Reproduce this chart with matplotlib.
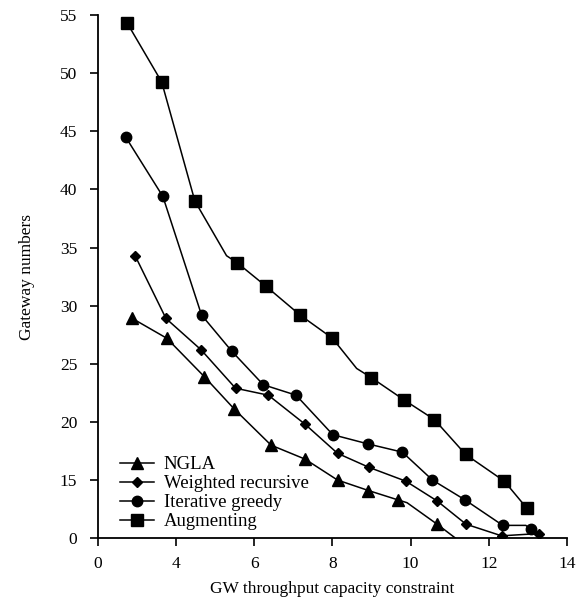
import numpy as np
import matplotlib.pyplot as plt

# values (x axis really runs 2..14, y axis 10..55)
ngla_x = [2.88, 3.76, 4.72, 5.49, 6.43, 7.30, 8.13, 8.92, 9.67, 9.91, 10.68, 11.15]
ngla_y = [28.9, 27.2, 23.9, 21.1, 18.0, 16.8, 15.0, 14.1, 13.3, 13.05, 11.2, 10.0]
ngla_marks = [0, 1, 2, 3, 4, 5, 6, 7, 8, 10]

wr_x = [2.95, 3.74, 4.64, 5.52, 6.36, 7.30, 8.13, 8.93, 9.88, 10.68, 11.42, 12.33, 13.29]
wr_y = [34.3, 28.9, 26.2, 22.9, 22.3, 19.8, 17.3, 16.1, 14.9, 13.2, 11.2, 10.2, 10.4]

ig_x = [2.71, 3.66, 4.65, 5.42, 6.23, 7.07, 8.01, 8.92, 9.79, 10.56, 11.39, 12.36, 12.95, 13.08]
ig_y = [44.5, 39.4, 29.2, 26.1, 23.2, 22.3, 18.9, 18.1, 17.4, 15.0, 13.3, 11.1, 11.1, 10.75]
ig_marks = [0, 1, 2, 3, 4, 5, 6, 7, 8, 9, 10, 11, 13]

aug_x = [2.75, 3.63, 4.48, 5.29, 5.56, 6.29, 7.17, 8.0, 8.62, 9.0, 9.83, 10.61, 11.41, 12.4, 12.97]
aug_y = [54.3, 49.25, 39.0, 34.3, 33.7, 31.7, 29.2, 27.2, 24.6, 23.8, 21.9, 20.2, 17.2, 14.9, 12.6]
aug_marks = [0, 1, 2, 4, 5, 6, 7, 9, 10, 11, 12, 13, 14]

x_ticks = [2, 4, 6, 8, 10, 12, 14]
x_labels = ["0", "4", "6", "8", "10", "12", "14"]
y_ticks = [10, 15, 20, 25, 30, 35, 40, 45, 50, 55]
y_labels = ["0", "15", "20", "25", "30", "35", "40", "45", "50", "55"]

plt.rcParams["font.family"] = ["Liberation Serif", "DejaVu Serif"]

fig = plt.figure(figsize=(5.85, 6.04), dpi=100)
ax = fig.add_axes([0.1675, 0.109, 0.8015, 0.866])

ax.plot(ngla_x, ngla_y, color="black", lw=1.1, marker="^", ms=8.5,
        markevery=ngla_marks, label="NGLA")
ax.plot(wr_x, wr_y, color="black", lw=1.1, marker="D", ms=5.5,
        label="Weighted recursive")
ax.plot(ig_x, ig_y, color="black", lw=1.1, marker="o", ms=7.5,
        markevery=ig_marks, label="Iterative greedy")
ax.plot(aug_x, aug_y, color="black", lw=1.1, marker="s", ms=8,
        markevery=aug_marks, label="Augmenting")

ax.set_xlim(2, 14)
ax.set_ylim(10, 55)
ax.set_xticks(x_ticks)
ax.set_xticklabels(x_labels)
ax.set_yticks(y_ticks)
ax.set_yticklabels(y_labels)
ax.tick_params(direction="out", length=6, width=1.2, labelsize=12.5)
ax.tick_params(axis="y", pad=9)
ax.tick_params(axis="x", pad=7)
for s in ["top", "right"]:
    ax.spines[s].set_visible(False)
for s in ["left", "bottom"]:
    ax.spines[s].set_linewidth(1.3)

ax.set_xlabel("GW throughput capacity constraint", fontsize=12.5, labelpad=6)
ax.set_ylabel("Gateway numbers", fontsize=12.5, labelpad=18)

ax.legend(loc="lower left", bbox_to_anchor=(0.02, -0.01), frameon=False,
          fontsize=13.5, handlelength=1.8, handletextpad=0.5, labelspacing=0.1,
          borderpad=0.2)

fig.savefig("out.png", dpi=100)
